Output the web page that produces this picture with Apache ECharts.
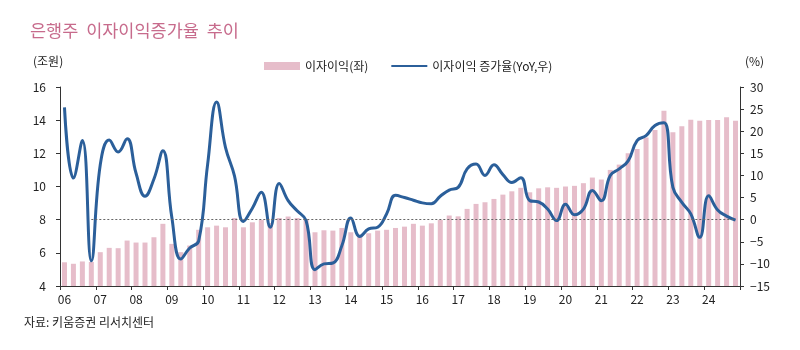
<!DOCTYPE html>
<html>
<head>
<meta charset="utf-8">
<script src="https://cdn.jsdelivr.net/npm/echarts@6/dist/echarts.min.js"></script>
<style>
html,body{margin:0;padding:0;background:#fff;}
#c{width:800px;height:350px;}
</style>
</head>
<body>
<div id="c"></div>
<script>
// ---- data ----
var years = ['06','07','08','09','10','11','12','13','14','15','16','17','18','19','20','21','22','23','24'];
var quarters = ['Q1','Q2','Q3','Q4'];
// 이자이익 (조원), quarterly 2006Q1 - 2024Q4
var interestIncome = [
  5.43, 5.34, 5.48, 5.45,
  6.04, 6.30, 6.28, 6.74,
  6.62, 6.62, 6.94, 7.75,
  6.54, 6.04, 6.44, 7.39,
  7.54, 7.64, 7.54, 8.10,
  7.54, 7.84, 7.99, 7.80,
  8.10, 8.19, 8.10, 8.04,
  7.24, 7.36, 7.34, 7.50,
  7.24, 7.10, 7.18, 7.34,
  7.39, 7.50, 7.58, 7.75,
  7.64, 7.78, 7.99, 8.25,
  8.20, 8.65, 8.95, 9.05,
  9.25, 9.51, 9.71, 9.92,
  9.65, 9.89, 9.95, 9.92,
  10.00, 10.04, 10.20, 10.54,
  10.42, 11.00, 11.32, 12.00,
  12.26, 12.96, 13.40, 14.57,
  13.27, 13.63, 14.03, 13.97,
  14.01, 14.01, 14.17, 13.97
];
// 이자이익 증가율 (YoY, %)
var yoyGrowth = [
  25.4, 9.4, 17.9, -9.3,
  12.4, 18.0, 15.3, 18.3,
  10.5, 5.3, 9.2, 15.6,
  0.5, -8.9, -6.4, -4.8,
  12.5, 26.6, 16.3, 9.9,
  -0.4, 2.6, 6.2, -1.7,
  8.2, 4.3, 2.0, -0.2,
  -11.3, -10.0, -9.8, -5.9,
  0.4, -3.8, -2.1, -1.7,
  1.3, 5.5, 5.0, 4.4,
  3.8, 3.6, 5.3, 6.7,
  7.3, 11.5, 12.6, 10.0,
  12.4, 10.2, 8.4, 9.5,
  4.3, 4.0, 2.4, -0.2,
  3.5, 1.1, 2.4, 6.6,
  4.3, 10.0, 11.5, 13.3,
  17.9, 19.0, 21.3, 21.9,
  7.3, 3.9, 1.3, -4.0,
  5.4, 2.2, 0.8, -0.1
];
var seriesNames = ['이자이익(좌)', '이자이익 증가율(YoY,우)'];
var leftTicks = {min: 4, max: 16, interval: 2};
var rightTicks = {min: -15, max: 30, interval: 5};

var categories = [];
years.forEach(function (y) { quarters.forEach(function (q) { categories.push(y + q); }); });

var FONT = '"Noto Sans CJK KR", "Noto Sans", sans-serif';
var chart = echarts.init(document.getElementById('c'), null, {renderer: 'canvas'});
chart.setOption({
  animation: false,
  backgroundColor: '#fff',
  textStyle: {fontFamily: FONT},
  title: {
    text: '은행주  이자이익증가율  추이',
    left: 25, top: 17,
    textStyle: {color: '#C76B8C', fontSize: 17.5, fontWeight: 'normal', fontFamily: FONT}
  },
  legend: {
    left: 259, top: 55,
    itemWidth: 36, itemHeight: 8, itemGap: 22,
    textStyle: {color: '#222', fontSize: 12, fontFamily: FONT},
    data: [
      {name: seriesNames[0], icon: 'rect'},
      {name: seriesNames[1], itemStyle: {opacity: 0}}
    ]
  },
  graphic: [
    {type: 'text', left: 33, top: 55, style: {text: '(조원)', fill: '#222', font: '12px ' + FONT}},
    {type: 'text', left: 745, top: 55, style: {text: '(%)', fill: '#222', font: '12px ' + FONT}},
    {type: 'text', left: 24, top: 316, style: {text: '자료: 키움증권 리서치센터', fill: '#222', font: '12px ' + FONT}}
  ],
  grid: {left: 60, right: 60, top: 87, bottom: 64},
  xAxis: {
    type: 'category',
    data: categories,
    boundaryGap: true,
    axisLine: {onZero: false, lineStyle: {color: '#333', width: 1}},
    axisTick: {
      show: true, length: 4, lineStyle: {color: '#333'},
      interval: function (i) { return i % 4 === 0; }
    },
    axisLabel: {
      color: '#222', fontSize: 12, margin: 7, fontFamily: FONT,
      interval: function (i) { return i % 4 === 0; },
      formatter: function (v) { return v.slice(0, 2); }
    },
    splitLine: {show: false}
  },
  yAxis: [
    {
      type: 'value', position: 'left',
      min: leftTicks.min, max: leftTicks.max, interval: leftTicks.interval,
      axisLine: {show: true, lineStyle: {color: '#333'}},
      axisTick: {show: true, length: 4, lineStyle: {color: '#333'}},
      axisLabel: {color: '#222', fontSize: 12, margin: 14, fontFamily: FONT},
      splitLine: {show: false}
    },
    {
      type: 'value', position: 'right',
      min: rightTicks.min, max: rightTicks.max, interval: rightTicks.interval,
      axisLine: {show: true, lineStyle: {color: '#333'}},
      axisTick: {show: true, length: 4, lineStyle: {color: '#333'}},
      axisLabel: {
        color: '#222', fontSize: 12, margin: 10, fontFamily: FONT,
        formatter: function (v) { return String(v).replace('-', '\u2212'); }
      },
      splitLine: {show: false}
    }
  ],
  series: [
    {
      name: seriesNames[0],
      type: 'bar',
      yAxisIndex: 0,
      data: interestIncome,
      barWidth: 5,
      itemStyle: {color: '#E6BDCA'},
      z: 1
    },
    {
      name: seriesNames[1],
      type: 'line',
      yAxisIndex: 1,
      data: yoyGrowth,
      smooth: 0.45,
      symbol: 'none',
      lineStyle: {color: '#2B5F9A', width: 3},
      itemStyle: {color: '#2B5F9A'},
      z: 3,
      markLine: {
        silent: true,
        symbol: 'none',
        label: {show: false},
        emphasis: {disabled: true},
        lineStyle: {color: '#666', type: [2, 2], width: 1.2},
        data: [[
          {coord: ['06Q4', 0]},
          {coord: ['24Q4', 0]}
        ]]
      }
    }
  ]
});
</script>
</body>
</html>
